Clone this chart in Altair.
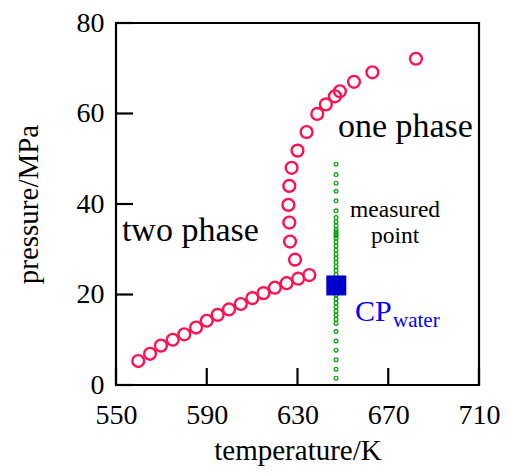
import altair as alt
import pandas as pd

# phase boundary (red open circles)
red_T = [559.8, 565.0, 569.8, 575.0, 580.1, 585.3, 590.0, 594.8, 599.8, 605.0,
         610.1, 615.0, 620.0, 625.2, 630.3, 635.2, 628.9, 626.7, 626.4, 626.0,
         626.4, 627.4, 630.0, 634.0, 638.7, 642.5, 646.5, 648.7, 654.9, 663.0, 682.2]
red_P = [5.3, 6.9, 8.7, 10.0, 11.2, 12.7, 14.2, 15.5, 16.7, 17.9,
         19.2, 20.3, 21.5, 22.5, 23.5, 24.3, 27.7, 31.7, 35.9, 39.8,
         44.0, 48.0, 51.8, 55.9, 59.9, 62.0, 63.8, 64.9, 67.0, 69.1, 72.1]

# measured points (green small circles)
green_P = [1.5, 3.5, 5.6, 7.7, 9.7, 11.8, 13.6, 14.5, 15.4, 16.3, 17.2, 18.1,
           19.0, 19.9, 20.8, 21.7, 22.6, 23.5, 24.4, 25.3, 26.2, 27.1, 28.0,
           28.9, 29.8, 30.7, 31.6, 32.5, 33.0, 33.4, 33.8, 34.3, 35.2, 36.1,
           37.0, 38.5, 40.7, 42.8, 44.6, 46.5, 48.8]
green_T = [647.0] * len(green_P)

# critical point of water
cp_T = [647.1]
cp_P = [22.0]

x_ticks = [550, 590, 630, 670, 710]
y_ticks = [0, 20, 40, 60, 80]

# annotation texts
ann_text = ["two phase", "one phase", "measured", "point"]
ann_T = [552.6, 647.8, 673.0, 673.0]
ann_P = [31.9, 54.8, 37.2, 31.4]
ann_size = [34, 34, 23.5, 23.5]
ann_align = ["left", "left", "center", "center"]

cp_text = ["CP", "water"]
cp_text_T = [655.3, 672.1]
cp_text_P = [14.2, 12.8]
cp_text_size = [30, 21]

W, H = 363, 362
FONT = "Liberation Serif"

xs = alt.Scale(domain=[550, 710], nice=False, zero=False)
ys = alt.Scale(domain=[0, 80], nice=False, zero=False)

xax = alt.Axis(values=x_ticks, title="temperature/K", grid=False, ticks=False,
               tickSize=0, domain=False, labelFont=FONT, labelFontSize=28,
               labelPadding=16, titleFont=FONT, titleFontSize=29,
               titleFontWeight="normal", titlePadding=7, labelColor="black",
               titleColor="black", labelFlush=False)
yax = alt.Axis(values=y_ticks, title="pressure/MPa", grid=False, ticks=False,
               tickSize=0, domain=False, labelFont=FONT, labelFontSize=28,
               labelPadding=12, titleFont=FONT, titleFontSize=29,
               titleFontWeight="normal", titlePadding=33, labelColor="black",
               titleColor="black", labelFlush=False)

red_df = pd.DataFrame({"T": red_T, "P": red_P})
green_df = pd.DataFrame({"T": green_T, "P": green_P})
cp_df = pd.DataFrame({"T": cp_T, "P": cp_P})
ann_df = pd.DataFrame({"text": ann_text, "T": ann_T, "P": ann_P,
                       "size": ann_size, "align": ann_align})
cpt_df = pd.DataFrame({"text": cp_text, "T": cp_text_T, "P": cp_text_P,
                       "size": cp_text_size})
xt_df = pd.DataFrame({"t": x_ticks})
yt_df = pd.DataFrame({"t": y_ticks})

frame = alt.Chart(pd.DataFrame({"a": [0]})).mark_rect(
    fill=None, fillOpacity=0, stroke="black", strokeWidth=2.2).encode(
    x=alt.value(0), x2=alt.value(W), y=alt.value(0), y2=alt.value(H))

red = alt.Chart(red_df).mark_point(shape="circle", filled=False, color="#ff1050",
                                   size=140, strokeWidth=2.4, opacity=1).encode(
    x=alt.X("T:Q", scale=xs, axis=xax),
    y=alt.Y("P:Q", scale=ys, axis=yax),
)

green = alt.Chart(green_df).mark_point(shape="circle", filled=False, color="#10a010",
                                       size=14, strokeWidth=1.3, opacity=1).encode(
    x=alt.X("T:Q", scale=xs),
    y=alt.Y("P:Q", scale=ys),
)

cp = alt.Chart(cp_df).mark_point(shape="square", filled=True, color="#0000cc",
                                 size=400, opacity=1).encode(
    x=alt.X("T:Q", scale=xs),
    y=alt.Y("P:Q", scale=ys),
)

ann_left = alt.Chart(ann_df[ann_df["align"] == "left"]).mark_text(
    font=FONT, align="left", baseline="alphabetic", color="black").encode(
    x=alt.X("T:Q", scale=xs), y=alt.Y("P:Q", scale=ys), text="text:N",
    size=alt.Size("size:Q", scale=None, legend=None),
)
ann_center = alt.Chart(ann_df[ann_df["align"] == "center"]).mark_text(
    font=FONT, align="center", baseline="alphabetic", color="black").encode(
    x=alt.X("T:Q", scale=xs), y=alt.Y("P:Q", scale=ys), text="text:N",
    size=alt.Size("size:Q", scale=None, legend=None),
)
cp_label = alt.Chart(cpt_df).mark_text(
    font=FONT, align="left", baseline="alphabetic", color="#0000ff").encode(
    x=alt.X("T:Q", scale=xs), y=alt.Y("P:Q", scale=ys), text="text:N",
    size=alt.Size("size:Q", scale=None, legend=None),
)

xticks = alt.Chart(xt_df).mark_rule(color="black", strokeWidth=2.2).encode(
    x=alt.X("t:Q", scale=xs), y=alt.value(H), y2=alt.value(H - 17))
yticks = alt.Chart(yt_df).mark_rule(color="black", strokeWidth=2.2).encode(
    y=alt.Y("t:Q", scale=ys), x=alt.value(0), x2=alt.value(17))

chart = alt.layer(frame, red, green, cp, ann_left, ann_center, cp_label, xticks, yticks).properties(
    width=W, height=H,
    autosize=alt.AutoSizeParams(type="none"),
    padding={"left": 108, "top": 15, "right": 24, "bottom": 81},
    background="white",
).configure_view(stroke=None)

chart.save("out.html", embed_options={"renderer": "svg", "actions": False})
